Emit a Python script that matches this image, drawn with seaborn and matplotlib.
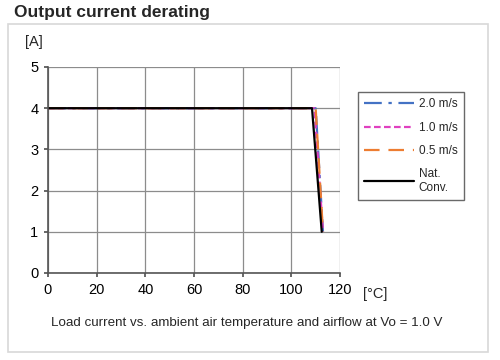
import matplotlib
matplotlib.use("Agg")
import matplotlib.pyplot as plt
import seaborn as sns
import pandas as pd
from matplotlib.patches import Rectangle

sns.set_theme(style="white")
plt.rcParams['font.family'] = ['Liberation Sans', 'DejaVu Sans']

series_names = ["2.0 m/s", "1.0 m/s", "0.5 m/s", "Nat.\nConv."]
temp_20 = [0, 110, 113]
temp_10 = [0, 109.5, 113]
temp_05 = [0, 110, 113]
temp_nat = [0, 108.5, 112.5]
current = [4, 4, 1]

colors = ["#4472C4", "#E040C0", "#ED7D31", "#000000"]
dashes = [(8, 3, 1.5, 3), (3, 1.5), (7, 4), ""]

rows = []
for name, temps in zip(series_names, [temp_20, temp_10, temp_05, temp_nat]):
    for t, c in zip(temps, current):
        rows.append({"series": name, "temp": t, "current": c})
df = pd.DataFrame(rows)

fig = plt.figure(figsize=(5, 3.6), dpi=100)
# outer frame
fig.patches.append(Rectangle((8/500, 1-352/360), 480/500, 328/360, transform=fig.transFigure,
                             fill=False, edgecolor="#d8d8d8", linewidth=1.2))
ax = fig.add_axes([48/500, 1-273/360, 292/500, 206/360])

sns.lineplot(data=df, x="temp", y="current", hue="series", style="series",
             hue_order=series_names, style_order=series_names,
             palette=colors, dashes=dashes, linewidth=1.6, ax=ax, sort=False)

ax.set_xlim(0, 120)
ax.set_ylim(0, 5)
ax.set_xticks(range(0, 121, 20))
ax.set_yticks(range(0, 6))
ax.grid(True, color="#8c8c8c", linewidth=0.9)
ax.set_axisbelow(True)
for s in ["top", "right"]:
    ax.spines[s].set_visible(False)
for s in ["left", "bottom"]:
    ax.spines[s].set_color("#555555")
    ax.spines[s].set_linewidth(1.2)
ax.tick_params(axis="both", labelsize=10.5, colors="#000000", length=3, left=True, bottom=True,
               color="#555555", pad=4)
ax.set_xlabel("")
ax.set_ylabel("")

ax.text(-0.05, 1.12, "[A]", transform=ax.transAxes, fontsize=10.5, ha="center", va="center")
ax.text(1.12, -0.10, "[°C]", transform=ax.transAxes, fontsize=10.5, ha="center", va="center")

handles, labels = ax.get_legend_handles_labels()
leg = ax.legend(handles, labels, loc="upper left", bbox_to_anchor=(310/292, 1 - (92-67)/206),
                borderaxespad=0, frameon=True, fontsize=8.5, handlelength=4.2, labelspacing=0.95,
                borderpad=0.55, handletextpad=0.4, fancybox=False)
leg.get_frame().set_edgecolor("#444444")
leg.get_frame().set_linewidth(1.0)

fig.text(14/500, 1-13/360, "Output current derating", fontsize=12.5, fontweight="bold",
         ha="left", va="center")
fig.text(247/500, 1-323/360, "Load current vs. ambient air temperature and airflow at Vo = 1.0 V",
         fontsize=9.6, ha="center", va="center")

fig.savefig("out.png", dpi=100)
